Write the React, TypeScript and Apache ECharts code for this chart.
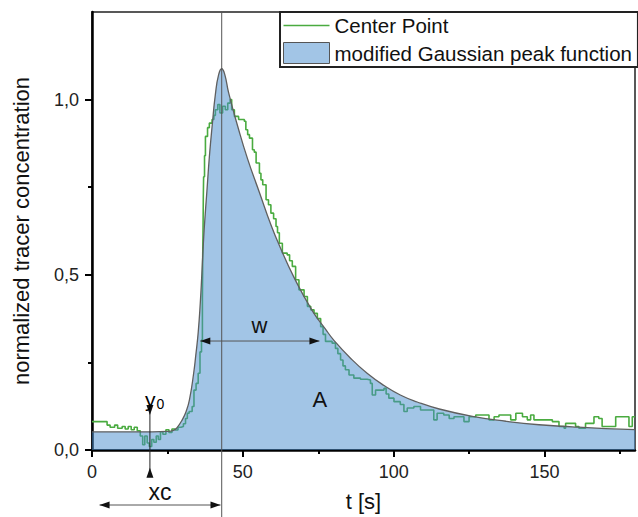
import React, { useEffect, useRef } from "react";
import * as echarts from "echarts";

// ---- axis ticks ----
const xTickValues = [0, 50, 100, 150];
const xMinorTickValues = [25, 75, 125, 175];
const yTickValues = [0, 0.5, 1.0];
const yMinorTickValues = [0.25, 0.75];
const X_MIN = 0;
const X_MAX = 180;
const Y_MIN = 0;
const Y_MAX = 1.25;

// ---- measured tracer signal (t [s], normalized concentration) ----
const centerPoint: [number, number][] = [
  [0, 0.081], [4, 0.081], [5, 0.071], [6, 0.065], [7.5, 0.071], [8.5, 0.062], [10, 0.067],
  [11, 0.06], [12, 0.067], [13, 0.058], [14, 0.065], [15, 0.055], [16, 0.04], [16.8, 0.015],
  [17.5, 0.04], [18.3, 0.02], [19, 0.01], [19.8, 0.03], [20.5, 0.022], [21.3, 0.04], [22, 0.03],
  [22.7, 0.052], [23.5, 0.045], [24.5, 0.058], [25.5, 0.05], [26.5, 0.06], [27.5, 0.057],
  [28.5, 0.065], [29.5, 0.067], [30.3, 0.075], [31, 0.09], [31.6, 0.105], [32.2, 0.11],
  [33.2, 0.124], [33.8, 0.171], [34.5, 0.19], [35.2, 0.219], [35.8, 0.28], [36.3, 0.314],
  [36.6, 0.43], [36.7, 0.55], [36.8, 0.62], [36.9, 0.72], [37, 0.78], [37.3, 0.84], [37.6, 0.895],
  [38.3, 0.92], [38.9, 0.933], [39.8, 0.943], [40.4, 0.955], [40.9, 0.971], [41.7, 0.986],
  [42.4, 0.962], [43.3, 0.981], [44.2, 0.971], [45, 0.99], [45.8, 1.0], [46.3, 0.971],
  [47.2, 0.952], [48.6, 0.943], [50.5, 0.938], [51, 0.914], [51.6, 0.9], [52.2, 0.89],
  [53.2, 0.857], [53.8, 0.85], [54.4, 0.819], [55.5, 0.79], [56, 0.771], [56.6, 0.757],
  [57.7, 0.714], [58.5, 0.7], [59.3, 0.676], [60.2, 0.66], [61, 0.638], [61.5, 0.62],
  [62.1, 0.59], [63.1, 0.562], [64.7, 0.557], [65.5, 0.54], [66.4, 0.524], [67.5, 0.486],
  [68.6, 0.457], [70.3, 0.438], [71.4, 0.41], [72.5, 0.4], [73.6, 0.39], [74.7, 0.375],
  [75.8, 0.352], [76.6, 0.33], [77.4, 0.31], [79.6, 0.305], [80.7, 0.29], [81.5, 0.275],
  [82.4, 0.257], [83.2, 0.24], [84, 0.229], [85.2, 0.214], [86.8, 0.205], [89, 0.202],
  [91.2, 0.2], [92.3, 0.19], [92.9, 0.157], [94, 0.171], [96.8, 0.176], [97.5, 0.16],
  [98.4, 0.148], [100.1, 0.138], [102.2, 0.13], [103.4, 0.11], [104.5, 0.12], [106.7, 0.124],
  [108.9, 0.114], [112.2, 0.114], [113.3, 0.086], [114.4, 0.105], [116.6, 0.1], [118.4, 0.09],
  [120, 0.095], [121.7, 0.095], [123.3, 0.081], [125, 0.095], [127.2, 0.1], [129.4, 0.1],
  [131.6, 0.086], [133.3, 0.095], [134.9, 0.1], [137.2, 0.1], [138.8, 0.086], [140.5, 0.105],
  [142.7, 0.095], [144.3, 0.086], [145.4, 0.1], [146.5, 0.086], [150.4, 0.086], [152.6, 0.081],
  [154.8, 0.067], [156.5, 0.062], [157, 0.076], [160.3, 0.067], [161.4, 0.062], [163.6, 0.076],
  [165.8, 0.076], [166.4, 0.095], [168, 0.09], [169.1, 0.067], [172.4, 0.067], [173.6, 0.095],
  [176.9, 0.095], [178, 0.067], [179.1, 0.095], [180, 0.095],
];

// ---- fitted modified Gaussian peak (t [s], value) ----
const gaussFit: [number, number][] = [
  [0, 0.052], [10, 0.052], [20, 0.052], [25, 0.053], [27, 0.056], [28.2, 0.064], [29.9, 0.086],
  [31.2, 0.11], [32.3, 0.143], [33.7, 0.219], [34.4, 0.27], [35.2, 0.335], [35.9, 0.42],
  [36.4, 0.5], [36.8, 0.571], [37.3, 0.645], [38.1, 0.74], [38.9, 0.836], [39.9, 0.931],
  [40.9, 1.015], [42, 1.072], [43, 1.088], [44, 1.072], [45.3, 1.019], [48.3, 0.924],
  [51.6, 0.83], [55.5, 0.735], [59.3, 0.643], [62.4, 0.578], [67, 0.492], [73, 0.398],
  [77.4, 0.345], [80.2, 0.313], [85.7, 0.262], [91.2, 0.219], [96.8, 0.184], [102.2, 0.157],
  [107.8, 0.137], [115.1, 0.117], [126.1, 0.096], [137.2, 0.082], [148.2, 0.072],
  [159.2, 0.066], [170.3, 0.061], [180, 0.058],
];

// ---- annotation anchors (data units) ----
const XC = 43;
const Y0_T = 19.2;
const Y0_LINE = [0.123, -0.077];
const Y0_TIPS = [0.1, -0.051];
const XC_ARROW_V = -0.157;
const XC_ARROW_T = [2.5, 42.6];
const W_ARROW_V = 0.311;
const W_ARROW_T = [35.9, 75.4];
const LABEL_W: [number, number] = [55.5, 0.355];
const LABEL_A: [number, number] = [75.5, 0.143];
const LABEL_XC: [number, number] = [22.5, -0.12];
const LABEL_Y0: [number, number] = [17.6, 0.143];

const FONT = "'Liberation Sans', Arial, sans-serif";
const GREEN = "#4aab40";
const FILL = "rgba(70,140,205,0.5)";
const FILL_SOLID = "#a2c5e6";

function head(tx: number, ty: number, dx: number, dy: number) {
  const L = 10;
  const H = 3.5;
  const bx = tx - dx * L;
  const by = ty - dy * L;
  return {
    type: "polygon",
    silent: true,
    z: 20,
    shape: { points: [[tx, ty], [bx - dy * H, by + dx * H], [bx + dy * H, by - dx * H]] },
    style: { fill: "#111" },
  };
}

function line(x1: number, y1: number, x2: number, y2: number, color = "#444", w = 1) {
  return {
    type: "line",
    silent: true,
    z: 20,
    shape: { x1, y1, x2, y2 },
    style: { stroke: color, lineWidth: w },
  };
}

export default function App() {
  const ref = useRef<HTMLDivElement>(null);

  useEffect(() => {
    if (!ref.current) return;
    const chart = echarts.init(ref.current, undefined, { renderer: "svg" });

    const option: any = {
      animation: false,
      backgroundColor: "#fff",
      textStyle: { fontFamily: FONT },
      grid: {
        left: 92,
        top: 12,
        right: 3,
        bottom: 67,
        show: true,
        borderColor: "#222",
        borderWidth: 1.5,
        backgroundColor: "transparent",
      },
      legend: {
        left: 280,
        top: 12,
        orient: "vertical",
        padding: [3, 6, 3, 3],
        itemGap: 6,
        itemWidth: 46,
        itemHeight: 21,
        borderColor: "#222",
        borderWidth: 2,
        borderRadius: 0,
        backgroundColor: "#fff",
        textStyle: { fontSize: 20.5, color: "#111", fontFamily: FONT },
        selectedMode: false,
        data: [
          {
            name: "Center Point",
            icon: "path://M0,0 L46,0 L46,1.6 L0,1.6 Z",
            itemStyle: { color: GREEN, borderWidth: 0 },
          },
          {
            name: "modified Gaussian peak function",
            icon: "rect",
            itemStyle: { color: FILL_SOLID, borderColor: "#555", borderWidth: 1 },
          },
        ],
      },
      xAxis: [
        {
          type: "value",
          min: X_MIN,
          max: X_MAX,
          interval: 50,
          position: "bottom",
          name: "t [s]",
          nameLocation: "middle",
          nameGap: 40,
          nameTextStyle: { fontSize: 22, color: "#111", fontFamily: FONT },
          axisLine: { show: true, onZero: false, lineStyle: { color: "#000", width: 2.5 } },
          axisTick: { show: true, inside: false, length: 7, customValues: xTickValues, lineStyle: { color: "#000", width: 2 } },
          axisLabel: { show: true, customValues: xTickValues, fontSize: 18, color: "#222", margin: 13, fontFamily: FONT },
          splitLine: { show: false },
        },
        {
          type: "value",
          min: X_MIN,
          max: X_MAX,
          position: "bottom",
          axisLine: { show: false, onZero: false },
          axisTick: { show: true, inside: false, length: 4, customValues: xMinorTickValues, lineStyle: { color: "#000", width: 2 } },
          axisLabel: { show: false },
          splitLine: { show: false },
        },
      ],
      yAxis: [
        {
          type: "value",
          min: Y_MIN,
          max: Y_MAX,
          interval: 0.25,
          position: "left",
          name: "normalized tracer concentration",
          nameLocation: "middle",
          nameGap: 60,
          nameRotate: 90,
          nameTextStyle: { fontSize: 22, color: "#111", fontFamily: FONT },
          axisLine: { show: true, onZero: false, lineStyle: { color: "#000", width: 2.5 } },
          axisTick: { show: true, inside: false, length: 7, customValues: yTickValues, lineStyle: { color: "#000", width: 2 } },
          axisLabel: {
            show: true,
            customValues: yTickValues,
            fontSize: 18,
            color: "#222",
            margin: 13,
            fontFamily: FONT,
            formatter: (v: number) => v.toFixed(1).replace(".", ","),
          },
          splitLine: { show: false },
        },
        {
          type: "value",
          min: Y_MIN,
          max: Y_MAX,
          position: "left",
          axisLine: { show: false, onZero: false },
          axisTick: { show: true, inside: false, length: 4, customValues: yMinorTickValues, lineStyle: { color: "#000", width: 2 } },
          axisLabel: { show: false },
          splitLine: { show: false },
        },
      ],
      series: [
        {
          name: "Center Point",
          type: "line",
          xAxisIndex: 0,
          yAxisIndex: 0,
          data: centerPoint,
          step: "end",
          symbol: "none",
          showSymbol: false,
          color: GREEN,
          lineStyle: { color: GREEN, width: 1.6 },
          z: 2,
        },
        {
          name: "modified Gaussian peak function",
          type: "line",
          xAxisIndex: 0,
          yAxisIndex: 0,
          data: gaussFit,
          smooth: 0.5,
          symbol: "none",
          showSymbol: false,
          color: "#5f5f5f",
          lineStyle: { color: "#5f5f5f", width: 1.3 },
          areaStyle: { color: FILL, opacity: 1 },
          z: 3,
        },
      ],
    };

    chart.setOption(option);

    const p = (t: number, v: number) =>
      chart.convertToPixel({ xAxisIndex: 0, yAxisIndex: 0 }, [t, v]) as number[];

    const gfx: any[] = [];
    // vertical line at xc
    const vTop = p(XC, Y_MAX);
    gfx.push(line(vTop[0], vTop[1], vTop[0], 517, "#555", 1));

    // y0 arrow
    const ya = p(Y0_T, Y0_LINE[0]);
    const yb = p(Y0_T, Y0_LINE[1]);
    gfx.push(line(ya[0], ya[1], yb[0], yb[1], "#222", 1));
    const t1 = p(Y0_T, Y0_TIPS[0]);
    const t2 = p(Y0_T, Y0_TIPS[1]);
    gfx.push(head(t1[0], t1[1], 0, 1));
    gfx.push(head(t2[0], t2[1], 0, -1));

    // xc arrow
    const xa = p(XC_ARROW_T[0], XC_ARROW_V);
    const xb = p(XC_ARROW_T[1], XC_ARROW_V);
    gfx.push(line(xa[0], xa[1], xb[0], xb[1], "#555", 1));
    gfx.push(head(xa[0], xa[1], -1, 0));
    gfx.push(head(xb[0], xb[1], 1, 0));

    // w arrow
    const wa = p(W_ARROW_T[0], W_ARROW_V);
    const wb = p(W_ARROW_T[1], W_ARROW_V);
    gfx.push(line(wa[0], wa[1], wb[0], wb[1], "#555", 1));
    gfx.push(head(wa[0], wa[1], -1, 0));
    gfx.push(head(wb[0], wb[1], 1, 0));

    // labels
    const lw = p(LABEL_W[0], LABEL_W[1]);
    gfx.push({
      type: "text", silent: true, z: 21, x: lw[0], y: lw[1],
      style: { text: "w", font: `22px ${FONT}`, fill: "#111", align: "center", verticalAlign: "middle" },
    });
    const la = p(LABEL_A[0], LABEL_A[1]);
    gfx.push({
      type: "text", silent: true, z: 21, x: la[0], y: la[1],
      style: { text: "A", font: `22px ${FONT}`, fill: "#111", align: "center", verticalAlign: "middle" },
    });
    const lx = p(LABEL_XC[0], LABEL_XC[1]);
    gfx.push({
      type: "text", silent: true, z: 21, x: lx[0], y: lx[1],
      style: { text: "xc", font: `23px ${FONT}`, fill: "#111", align: "center", verticalAlign: "middle" },
    });
    const ly = p(LABEL_Y0[0], LABEL_Y0[1]);
    gfx.push({
      type: "text", silent: true, z: 21, x: ly[0], y: ly[1],
      style: {
        text: "{a|y}{b|0}",
        align: "left",
        verticalAlign: "middle",
        rich: {
          a: { fontSize: 21, fontFamily: FONT, color: "#111", lineHeight: 22, verticalAlign: "middle" },
          b: { fontSize: 14, fontFamily: FONT, color: "#111", lineHeight: 22, verticalAlign: "bottom", padding: [6, 0, 0, 1] },
        },
      },
    });

    chart.setOption({ graphic: gfx });

    return () => chart.dispose();
  }, []);

  return (
    <div
      ref={ref}
      style={{ position: "fixed", left: 0, top: 0, width: 638, height: 517, background: "#fff" }}
    />
  );
}
